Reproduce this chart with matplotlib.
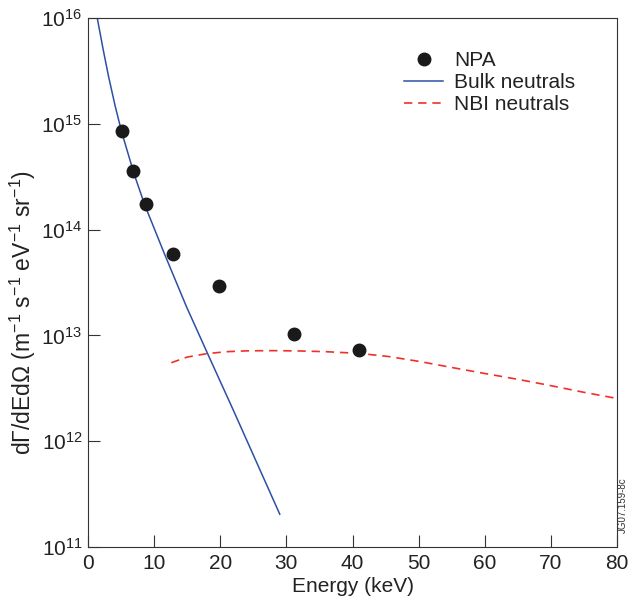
import numpy as np
import matplotlib
matplotlib.use('Agg')
import matplotlib.pyplot as plt
from matplotlib.ticker import LogLocator, NullLocator

plt.rcParams['font.family'] = ['Liberation Sans', 'DejaVu Sans']
plt.rcParams['mathtext.fontset'] = 'custom'
plt.rcParams['mathtext.rm'] = 'Liberation Sans'
plt.rcParams['mathtext.it'] = 'Liberation Sans:italic'
plt.rcParams['mathtext.default'] = 'regular'

# NPA measurements
npa_energy = [5.1, 6.8, 8.8, 12.85, 19.8, 31.2, 41.0]
npa_flux = [8.55e14, 3.58e14, 1.75e14, 5.88e13, 2.93e13, 1.03e13, 7.3e12]

# Bulk neutrals model curve
bulk_energy = [1.2, 1.4, 2.3, 3.1, 4.1, 5.1, 7.0, 8.6, 11.6, 14.9, 18.0, 22.0, 25.5, 29.0]
bulk_log_flux = [16.07, 16.0, 15.70, 15.45, 15.17, 14.92, 14.52, 14.23, 13.765,
                 13.27, 12.84, 12.29, 11.80, 11.31]

# NBI neutrals model curve
nbi_energy = [12.6, 15.0, 18.0, 21.0, 24.0, 28.0, 32.0, 36.0, 41.0, 45.5, 50.0,
              55.0, 60.0, 65.0, 70.0, 75.0, 80.0]
nbi_log_flux = [12.742, 12.795, 12.828, 12.846, 12.854, 12.856, 12.853, 12.846, 12.830,
                12.800, 12.755, 12.697, 12.640, 12.585, 12.525, 12.462, 12.404]

bulk_flux = 10 ** np.array(bulk_log_flux)
nbi_flux = 10 ** np.array(nbi_log_flux)

fig = plt.figure(figsize=(6.34, 6.08), dpi=100)
ax = fig.add_axes([88 / 634, 1 - 547 / 608, 529 / 634, 529 / 608])

ax.plot(bulk_energy, bulk_flux, color='#2e4fa6', lw=1.1, label='Bulk neutrals')
ax.plot(nbi_energy, nbi_flux, color='#f03028', lw=1.2, linestyle=(0, (5, 3.5)),
        label='NBI neutrals')
ax.plot(npa_energy, npa_flux, 'o', color='#1a1a1a', markersize=9, label='NPA')

ax.set_yscale('log')
ax.set_xlim(0, 80)
ax.set_ylim(1e11, 1e16)
ax.set_xticks(np.arange(0, 81, 10))
ax.yaxis.set_major_locator(LogLocator(base=10, numticks=10))
ax.yaxis.set_minor_locator(NullLocator())

ax.tick_params(axis='both', direction='in', length=8.5, width=0.8, color='#333333',
               labelsize=15, labelcolor='#222222')
ax.tick_params(axis='x', pad=5)
ax.tick_params(axis='y', pad=4)
for s in ax.spines.values():
    s.set_color('#333333')
    s.set_linewidth(0.8)

ax.set_xlabel('Energy (keV)', fontsize=15, color='#222222', labelpad=3)
ax.set_ylabel('dΓ/dEdΩ (m$^{-1}$ s$^{-1}$ eV$^{-1}$ sr$^{-1}$)', fontsize=16.5,
              color='#222222')
ax.yaxis.set_label_coords(-0.095, 1 - (313 - 18) / 529)

handles, labels = ax.get_legend_handles_labels()
order = [2, 0, 1]
ax.legend([handles[i] for i in order], [labels[i] for i in order],
          loc='upper left', bbox_to_anchor=(0.597, 0.938), frameon=False,
          fontsize=15, borderpad=0, borderaxespad=0, labelspacing=0.15,
          handlelength=1.9, handletextpad=0.5, labelcolor='#222222')

fig.text(623 / 634, 1 - 505 / 608, 'JG07.159-8c', rotation=90, fontsize=7,
         color='#333333', ha='center', va='center')

fig.savefig('out.png', dpi=100)
